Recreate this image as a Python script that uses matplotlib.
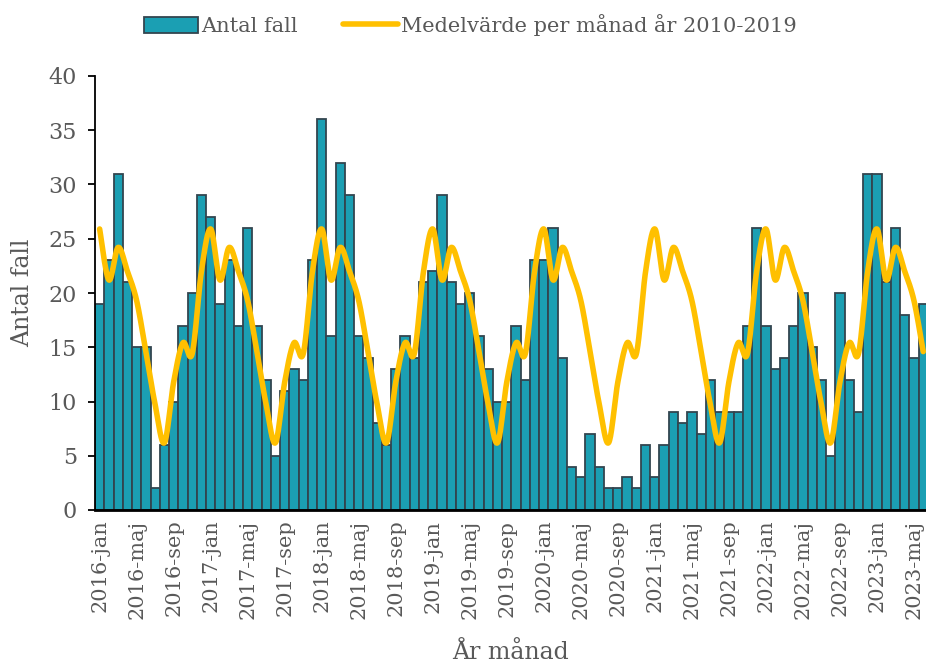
import numpy as np
import matplotlib
matplotlib.use('Agg')
import matplotlib.pyplot as plt

plt.rcParams['font.family'] = ['DejaVu Serif']

# månader 2016-jan .. 2023-jun
man_namn = ['jan', 'feb', 'mar', 'apr', 'maj', 'jun', 'jul', 'aug', 'sep', 'okt', 'nov', 'dec']
ar = [2016, 2017, 2018, 2019, 2020, 2021, 2022, 2023]

antal_2016 = [19, 23, 31, 21, 15, 15, 2, 6, 10, 17, 20, 29]
antal_2017 = [27, 19, 23, 17, 26, 17, 12, 5, 11, 13, 12, 23]
antal_2018 = [36, 16, 32, 29, 16, 14, 8, 6, 13, 16, 14, 21]
antal_2019 = [22, 29, 21, 19, 20, 16, 13, 10, 10, 17, 12, 23]
antal_2020 = [23, 26, 14, 4, 3, 7, 4, 2, 2, 3, 2, 6]
antal_2021 = [3, 6, 9, 8, 9, 7, 12, 9, 9, 9, 17, 26]
antal_2022 = [17, 13, 14, 17, 20, 15, 12, 5, 20, 12, 9, 31]
antal_2023 = [31, 21, 26, 18, 14, 19]

# medelvärde per månad 2010-2019
medel = [25.9, 21.2, 24.2, 22.0, 19.3, 14.6, 9.7, 6.2, 11.8, 15.4, 14.4, 22.0]

antal = (antal_2016 + antal_2017 + antal_2018 + antal_2019 +
         antal_2020 + antal_2021 + antal_2022 + antal_2023)
etiketter = [f'{a}-{m}' for a in ar for m in man_namn][:len(antal)]
medel_serie = [medel[i % 12] for i in range(len(antal))]

x = np.arange(len(antal))


def smooth(xs, ys, n=20):
    # bezier-utjämning som i Excel (Catmull-Rom)
    p = np.column_stack([xs, ys]).astype(float)
    p = np.vstack([p[0], p, p[-1]])
    out = []
    t = np.linspace(0, 1, n)[:, None]
    for i in range(1, len(p) - 2):
        p0, p1, p2, p3 = p[i - 1], p[i], p[i + 1], p[i + 2]
        b1 = p1 + (p2 - p0) / 6
        b2 = p2 - (p3 - p1) / 6
        seg = ((1 - t) ** 3) * p1 + 3 * ((1 - t) ** 2) * t * b1 + 3 * (1 - t) * t ** 2 * b2 + t ** 3 * p2
        out.append(seg if i == 1 else seg[1:])
    out = np.vstack(out)
    return out[:, 0], out[:, 1]


grey = '#595959'
fig = plt.figure(figsize=(9.26, 6.64), dpi=100)
ax = fig.add_axes([95 / 926, (664 - 510) / 664, (926 - 95) / 926, (510 - 76) / 664])

bars = ax.bar(x, antal, width=1.0, color='#1b9fb3', edgecolor='#33454f', linewidth=1.3,
              label='Antal fall', zorder=2)
sx, sy = smooth(x, medel_serie)
linje, = ax.plot(sx, sy, color='#FFC000', linewidth=4, solid_capstyle='round',
                 label='Medelvärde per månad år 2010-2019', zorder=3)

ax.set_xlim(-0.5, 89.3)
ax.set_ylim(0, 40)
ax.set_yticks(range(0, 41, 5))
ax.set_xticks(x[::4])
ax.set_xticklabels(etiketter[::4], rotation=90)
ax.tick_params(axis='x', length=0, labelsize=15, colors=grey, pad=7)
ax.tick_params(axis='y', length=5, width=1.3, labelsize=16, labelcolor=grey, pad=8)

for s in ['top', 'right']:
    ax.spines[s].set_visible(False)
ax.spines['left'].set_linewidth(1.3)
ax.spines['bottom'].set_linewidth(2)

ax.set_ylabel('Antal fall', fontsize=17, color=grey, labelpad=10)
ax.set_xlabel('År månad', fontsize=17, color=grey, labelpad=16)

fig.legend(handles=[bars, linje], loc='center', bbox_to_anchor=(0.5 + 7 / 926, 1 - 25 / 664),
           ncol=2, frameon=False, fontsize=15, labelcolor=grey, handlelength=2.6,
           handleheight=0.8, handletextpad=0.15, columnspacing=2.2)

fig.savefig('out.png', dpi=100)
